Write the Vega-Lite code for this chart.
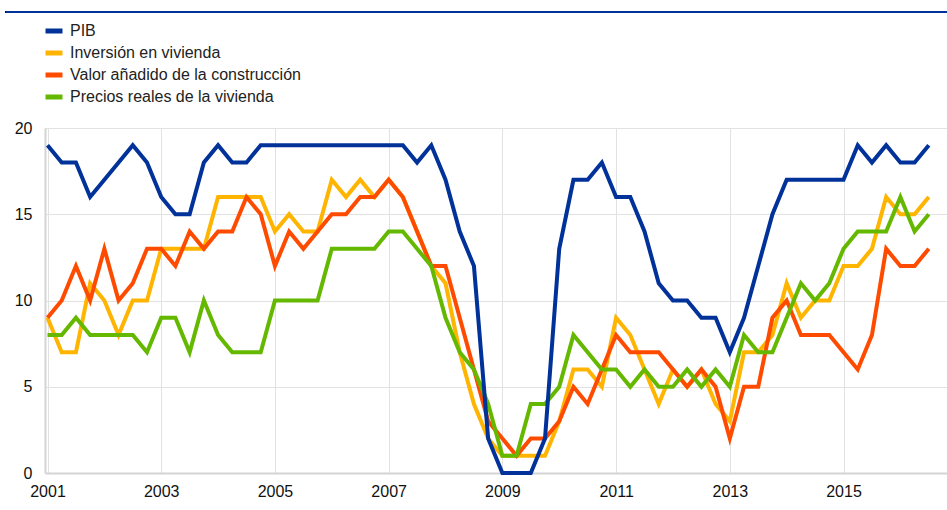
{
  "$schema": "https://vega.github.io/schema/vega-lite/v6.json",
  "width": 902,
  "height": 345,
  "autosize": {"type": "none"},
  "padding": {"left": 45, "top": 128, "right": 0, "bottom": 37},
  "background": "white",
  "config": {
    "view": {"stroke": null},
    "font": "Liberation Sans"
  },
  "data": {
    "values": [
      {"s":"Inversión en vivienda","t":2001,"v":9},{"s":"Inversión en vivienda","t":2001.25,"v":7},{"s":"Inversión en vivienda","t":2001.5,"v":7},{"s":"Inversión en vivienda","t":2001.75,"v":11},
      {"s":"Inversión en vivienda","t":2002,"v":10},{"s":"Inversión en vivienda","t":2002.25,"v":8},{"s":"Inversión en vivienda","t":2002.5,"v":10},{"s":"Inversión en vivienda","t":2002.75,"v":10},
      {"s":"Inversión en vivienda","t":2003,"v":13},{"s":"Inversión en vivienda","t":2003.25,"v":13},{"s":"Inversión en vivienda","t":2003.5,"v":13},{"s":"Inversión en vivienda","t":2003.75,"v":13},
      {"s":"Inversión en vivienda","t":2004,"v":16},{"s":"Inversión en vivienda","t":2004.25,"v":16},{"s":"Inversión en vivienda","t":2004.5,"v":16},{"s":"Inversión en vivienda","t":2004.75,"v":16},
      {"s":"Inversión en vivienda","t":2005,"v":14},{"s":"Inversión en vivienda","t":2005.25,"v":15},{"s":"Inversión en vivienda","t":2005.5,"v":14},{"s":"Inversión en vivienda","t":2005.75,"v":14},
      {"s":"Inversión en vivienda","t":2006,"v":17},{"s":"Inversión en vivienda","t":2006.25,"v":16},{"s":"Inversión en vivienda","t":2006.5,"v":17},{"s":"Inversión en vivienda","t":2006.75,"v":16},
      {"s":"Inversión en vivienda","t":2007,"v":17},{"s":"Inversión en vivienda","t":2007.25,"v":16},{"s":"Inversión en vivienda","t":2007.5,"v":14},{"s":"Inversión en vivienda","t":2007.75,"v":12},
      {"s":"Inversión en vivienda","t":2008,"v":11},{"s":"Inversión en vivienda","t":2008.25,"v":7},{"s":"Inversión en vivienda","t":2008.5,"v":4},{"s":"Inversión en vivienda","t":2008.75,"v":2},
      {"s":"Inversión en vivienda","t":2009,"v":1},{"s":"Inversión en vivienda","t":2009.25,"v":1},{"s":"Inversión en vivienda","t":2009.5,"v":1},{"s":"Inversión en vivienda","t":2009.75,"v":1},
      {"s":"Inversión en vivienda","t":2010,"v":3},{"s":"Inversión en vivienda","t":2010.25,"v":6},{"s":"Inversión en vivienda","t":2010.5,"v":6},{"s":"Inversión en vivienda","t":2010.75,"v":5},
      {"s":"Inversión en vivienda","t":2011,"v":9},{"s":"Inversión en vivienda","t":2011.25,"v":8},{"s":"Inversión en vivienda","t":2011.5,"v":6},{"s":"Inversión en vivienda","t":2011.75,"v":4},
      {"s":"Inversión en vivienda","t":2012,"v":6},{"s":"Inversión en vivienda","t":2012.25,"v":5},{"s":"Inversión en vivienda","t":2012.5,"v":6},{"s":"Inversión en vivienda","t":2012.75,"v":4},
      {"s":"Inversión en vivienda","t":2013,"v":3},{"s":"Inversión en vivienda","t":2013.25,"v":7},{"s":"Inversión en vivienda","t":2013.5,"v":7},{"s":"Inversión en vivienda","t":2013.75,"v":8},
      {"s":"Inversión en vivienda","t":2014,"v":11},{"s":"Inversión en vivienda","t":2014.25,"v":9},{"s":"Inversión en vivienda","t":2014.5,"v":10},{"s":"Inversión en vivienda","t":2014.75,"v":10},
      {"s":"Inversión en vivienda","t":2015,"v":12},{"s":"Inversión en vivienda","t":2015.25,"v":12},{"s":"Inversión en vivienda","t":2015.5,"v":13},{"s":"Inversión en vivienda","t":2015.75,"v":16},
      {"s":"Inversión en vivienda","t":2016,"v":15},{"s":"Inversión en vivienda","t":2016.25,"v":15},{"s":"Inversión en vivienda","t":2016.5,"v":16},

      {"s":"Valor añadido de la construcción","t":2001,"v":9},{"s":"Valor añadido de la construcción","t":2001.25,"v":10},{"s":"Valor añadido de la construcción","t":2001.5,"v":12},{"s":"Valor añadido de la construcción","t":2001.75,"v":10},
      {"s":"Valor añadido de la construcción","t":2002,"v":13},{"s":"Valor añadido de la construcción","t":2002.25,"v":10},{"s":"Valor añadido de la construcción","t":2002.5,"v":11},{"s":"Valor añadido de la construcción","t":2002.75,"v":13},
      {"s":"Valor añadido de la construcción","t":2003,"v":13},{"s":"Valor añadido de la construcción","t":2003.25,"v":12},{"s":"Valor añadido de la construcción","t":2003.5,"v":14},{"s":"Valor añadido de la construcción","t":2003.75,"v":13},
      {"s":"Valor añadido de la construcción","t":2004,"v":14},{"s":"Valor añadido de la construcción","t":2004.25,"v":14},{"s":"Valor añadido de la construcción","t":2004.5,"v":16},{"s":"Valor añadido de la construcción","t":2004.75,"v":15},
      {"s":"Valor añadido de la construcción","t":2005,"v":12},{"s":"Valor añadido de la construcción","t":2005.25,"v":14},{"s":"Valor añadido de la construcción","t":2005.5,"v":13},{"s":"Valor añadido de la construcción","t":2005.75,"v":14},
      {"s":"Valor añadido de la construcción","t":2006,"v":15},{"s":"Valor añadido de la construcción","t":2006.25,"v":15},{"s":"Valor añadido de la construcción","t":2006.5,"v":16},{"s":"Valor añadido de la construcción","t":2006.75,"v":16},
      {"s":"Valor añadido de la construcción","t":2007,"v":17},{"s":"Valor añadido de la construcción","t":2007.25,"v":16},{"s":"Valor añadido de la construcción","t":2007.5,"v":14},{"s":"Valor añadido de la construcción","t":2007.75,"v":12},
      {"s":"Valor añadido de la construcción","t":2008,"v":12},{"s":"Valor añadido de la construcción","t":2008.25,"v":9},{"s":"Valor añadido de la construcción","t":2008.5,"v":6},{"s":"Valor añadido de la construcción","t":2008.75,"v":3},
      {"s":"Valor añadido de la construcción","t":2009,"v":2},{"s":"Valor añadido de la construcción","t":2009.25,"v":1},{"s":"Valor añadido de la construcción","t":2009.5,"v":2},{"s":"Valor añadido de la construcción","t":2009.75,"v":2},
      {"s":"Valor añadido de la construcción","t":2010,"v":3},{"s":"Valor añadido de la construcción","t":2010.25,"v":5},{"s":"Valor añadido de la construcción","t":2010.5,"v":4},{"s":"Valor añadido de la construcción","t":2010.75,"v":6},
      {"s":"Valor añadido de la construcción","t":2011,"v":8},{"s":"Valor añadido de la construcción","t":2011.25,"v":7},{"s":"Valor añadido de la construcción","t":2011.5,"v":7},{"s":"Valor añadido de la construcción","t":2011.75,"v":7},
      {"s":"Valor añadido de la construcción","t":2012,"v":6},{"s":"Valor añadido de la construcción","t":2012.25,"v":5},{"s":"Valor añadido de la construcción","t":2012.5,"v":6},{"s":"Valor añadido de la construcción","t":2012.75,"v":5},
      {"s":"Valor añadido de la construcción","t":2013,"v":2},{"s":"Valor añadido de la construcción","t":2013.25,"v":5},{"s":"Valor añadido de la construcción","t":2013.5,"v":5},{"s":"Valor añadido de la construcción","t":2013.75,"v":9},
      {"s":"Valor añadido de la construcción","t":2014,"v":10},{"s":"Valor añadido de la construcción","t":2014.25,"v":8},{"s":"Valor añadido de la construcción","t":2014.5,"v":8},{"s":"Valor añadido de la construcción","t":2014.75,"v":8},
      {"s":"Valor añadido de la construcción","t":2015,"v":7},{"s":"Valor añadido de la construcción","t":2015.25,"v":6},{"s":"Valor añadido de la construcción","t":2015.5,"v":8},{"s":"Valor añadido de la construcción","t":2015.75,"v":13},
      {"s":"Valor añadido de la construcción","t":2016,"v":12},{"s":"Valor añadido de la construcción","t":2016.25,"v":12},{"s":"Valor añadido de la construcción","t":2016.5,"v":13},

      {"s":"Precios reales de la vivienda","t":2001,"v":8},{"s":"Precios reales de la vivienda","t":2001.25,"v":8},{"s":"Precios reales de la vivienda","t":2001.5,"v":9},{"s":"Precios reales de la vivienda","t":2001.75,"v":8},
      {"s":"Precios reales de la vivienda","t":2002,"v":8},{"s":"Precios reales de la vivienda","t":2002.25,"v":8},{"s":"Precios reales de la vivienda","t":2002.5,"v":8},{"s":"Precios reales de la vivienda","t":2002.75,"v":7},
      {"s":"Precios reales de la vivienda","t":2003,"v":9},{"s":"Precios reales de la vivienda","t":2003.25,"v":9},{"s":"Precios reales de la vivienda","t":2003.5,"v":7},{"s":"Precios reales de la vivienda","t":2003.75,"v":10},
      {"s":"Precios reales de la vivienda","t":2004,"v":8},{"s":"Precios reales de la vivienda","t":2004.25,"v":7},{"s":"Precios reales de la vivienda","t":2004.5,"v":7},{"s":"Precios reales de la vivienda","t":2004.75,"v":7},
      {"s":"Precios reales de la vivienda","t":2005,"v":10},{"s":"Precios reales de la vivienda","t":2005.25,"v":10},{"s":"Precios reales de la vivienda","t":2005.5,"v":10},{"s":"Precios reales de la vivienda","t":2005.75,"v":10},
      {"s":"Precios reales de la vivienda","t":2006,"v":13},{"s":"Precios reales de la vivienda","t":2006.25,"v":13},{"s":"Precios reales de la vivienda","t":2006.5,"v":13},{"s":"Precios reales de la vivienda","t":2006.75,"v":13},
      {"s":"Precios reales de la vivienda","t":2007,"v":14},{"s":"Precios reales de la vivienda","t":2007.25,"v":14},{"s":"Precios reales de la vivienda","t":2007.5,"v":13},{"s":"Precios reales de la vivienda","t":2007.75,"v":12},
      {"s":"Precios reales de la vivienda","t":2008,"v":9},{"s":"Precios reales de la vivienda","t":2008.25,"v":7},{"s":"Precios reales de la vivienda","t":2008.5,"v":6},{"s":"Precios reales de la vivienda","t":2008.75,"v":4},
      {"s":"Precios reales de la vivienda","t":2009,"v":1},{"s":"Precios reales de la vivienda","t":2009.25,"v":1},{"s":"Precios reales de la vivienda","t":2009.5,"v":4},{"s":"Precios reales de la vivienda","t":2009.75,"v":4},
      {"s":"Precios reales de la vivienda","t":2010,"v":5},{"s":"Precios reales de la vivienda","t":2010.25,"v":8},{"s":"Precios reales de la vivienda","t":2010.5,"v":7},{"s":"Precios reales de la vivienda","t":2010.75,"v":6},
      {"s":"Precios reales de la vivienda","t":2011,"v":6},{"s":"Precios reales de la vivienda","t":2011.25,"v":5},{"s":"Precios reales de la vivienda","t":2011.5,"v":6},{"s":"Precios reales de la vivienda","t":2011.75,"v":5},
      {"s":"Precios reales de la vivienda","t":2012,"v":5},{"s":"Precios reales de la vivienda","t":2012.25,"v":6},{"s":"Precios reales de la vivienda","t":2012.5,"v":5},{"s":"Precios reales de la vivienda","t":2012.75,"v":6},
      {"s":"Precios reales de la vivienda","t":2013,"v":5},{"s":"Precios reales de la vivienda","t":2013.25,"v":8},{"s":"Precios reales de la vivienda","t":2013.5,"v":7},{"s":"Precios reales de la vivienda","t":2013.75,"v":7},
      {"s":"Precios reales de la vivienda","t":2014,"v":9},{"s":"Precios reales de la vivienda","t":2014.25,"v":11},{"s":"Precios reales de la vivienda","t":2014.5,"v":10},{"s":"Precios reales de la vivienda","t":2014.75,"v":11},
      {"s":"Precios reales de la vivienda","t":2015,"v":13},{"s":"Precios reales de la vivienda","t":2015.25,"v":14},{"s":"Precios reales de la vivienda","t":2015.5,"v":14},{"s":"Precios reales de la vivienda","t":2015.75,"v":14},
      {"s":"Precios reales de la vivienda","t":2016,"v":16},{"s":"Precios reales de la vivienda","t":2016.25,"v":14},{"s":"Precios reales de la vivienda","t":2016.5,"v":15},

      {"s":"PIB","t":2001,"v":19},{"s":"PIB","t":2001.25,"v":18},{"s":"PIB","t":2001.5,"v":18},{"s":"PIB","t":2001.75,"v":16},
      {"s":"PIB","t":2002,"v":17},{"s":"PIB","t":2002.25,"v":18},{"s":"PIB","t":2002.5,"v":19},{"s":"PIB","t":2002.75,"v":18},
      {"s":"PIB","t":2003,"v":16},{"s":"PIB","t":2003.25,"v":15},{"s":"PIB","t":2003.5,"v":15},{"s":"PIB","t":2003.75,"v":18},
      {"s":"PIB","t":2004,"v":19},{"s":"PIB","t":2004.25,"v":18},{"s":"PIB","t":2004.5,"v":18},{"s":"PIB","t":2004.75,"v":19},
      {"s":"PIB","t":2005,"v":19},{"s":"PIB","t":2005.25,"v":19},{"s":"PIB","t":2005.5,"v":19},{"s":"PIB","t":2005.75,"v":19},
      {"s":"PIB","t":2006,"v":19},{"s":"PIB","t":2006.25,"v":19},{"s":"PIB","t":2006.5,"v":19},{"s":"PIB","t":2006.75,"v":19},
      {"s":"PIB","t":2007,"v":19},{"s":"PIB","t":2007.25,"v":19},{"s":"PIB","t":2007.5,"v":18},{"s":"PIB","t":2007.75,"v":19},
      {"s":"PIB","t":2008,"v":17},{"s":"PIB","t":2008.25,"v":14},{"s":"PIB","t":2008.5,"v":12},{"s":"PIB","t":2008.75,"v":2},
      {"s":"PIB","t":2009,"v":0},{"s":"PIB","t":2009.25,"v":0},{"s":"PIB","t":2009.5,"v":0},{"s":"PIB","t":2009.75,"v":2},
      {"s":"PIB","t":2010,"v":13},{"s":"PIB","t":2010.25,"v":17},{"s":"PIB","t":2010.5,"v":17},{"s":"PIB","t":2010.75,"v":18},
      {"s":"PIB","t":2011,"v":16},{"s":"PIB","t":2011.25,"v":16},{"s":"PIB","t":2011.5,"v":14},{"s":"PIB","t":2011.75,"v":11},
      {"s":"PIB","t":2012,"v":10},{"s":"PIB","t":2012.25,"v":10},{"s":"PIB","t":2012.5,"v":9},{"s":"PIB","t":2012.75,"v":9},
      {"s":"PIB","t":2013,"v":7},{"s":"PIB","t":2013.25,"v":9},{"s":"PIB","t":2013.5,"v":12},{"s":"PIB","t":2013.75,"v":15},
      {"s":"PIB","t":2014,"v":17},{"s":"PIB","t":2014.25,"v":17},{"s":"PIB","t":2014.5,"v":17},{"s":"PIB","t":2014.75,"v":17},
      {"s":"PIB","t":2015,"v":17},{"s":"PIB","t":2015.25,"v":19},{"s":"PIB","t":2015.5,"v":18},{"s":"PIB","t":2015.75,"v":19},
      {"s":"PIB","t":2016,"v":18},{"s":"PIB","t":2016.25,"v":18},{"s":"PIB","t":2016.5,"v":19}
    ]
  },
  "layer": [
    {
      "mark": {"type": "rule", "color": "#003299", "strokeWidth": 2, "clip": false},
      "encoding": {
        "x": {"datum": 2000.27, "type": "quantitative"},
        "x2": {"datum": 2016.82},
        "y": {"datum": 26.72, "type": "quantitative"}
      }
    },
    {
      "mark": {"type": "line", "strokeWidth": 4, "strokeJoin": "miter", "clip": false},
      "encoding": {
        "x": {
          "field": "t",
          "type": "quantitative",
          "scale": {"domain": [2000.956, 2016.82], "nice": false, "zero": false},
          "axis": {
            "title": null,
            "values": [2001, 2003, 2005, 2007, 2009, 2011, 2013, 2015],
            "format": "d",
            "grid": true,
            "gridColor": "#e2e2e2",
            "gridWidth": 1,
            "ticks": false,
            "domainColor": "#d4d4d4",
            "domainWidth": 2,
            "labelFontSize": 16,
            "labelFont": "Liberation Sans",
            "labelColor": "#111",
            "labelPadding": 10,
            "labelFlush": false
          }
        },
        "y": {
          "field": "v",
          "type": "quantitative",
          "scale": {"domain": [0, 20], "nice": false},
          "axis": {
            "title": null,
            "values": [0, 5, 10, 15, 20],
            "grid": true,
            "gridColor": "#e2e2e2",
            "gridWidth": 1,
            "ticks": false,
            "domainColor": "#d4d4d4",
            "domainWidth": 2,
            "labelFontSize": 16,
            "labelFont": "Liberation Sans",
            "labelColor": "#111",
            "labelPadding": 13
          }
        },
        "color": {
          "field": "s",
          "type": "nominal",
          "scale": {
            "domain": ["PIB", "Inversión en vivienda", "Valor añadido de la construcción", "Precios reales de la vivienda"],
            "range": ["#003299", "#FFB400", "#FF4B00", "#65B800"]
          },
          "legend": {
            "title": null,
            "orient": "none",
            "legendX": -2,
            "legendY": -108,
            "direction": "vertical",
            "symbolType": "stroke",
            "symbolStrokeWidth": 5,
            "symbolSize": 289,
            "labelFontSize": 16,
            "labelFont": "Liberation Sans",
            "labelColor": "#222",
            "labelOffset": 5,
            "rowPadding": 1,
            "padding": 0,
            "labelLimit": 500
          }
        }
      }
    }
  ]
}
